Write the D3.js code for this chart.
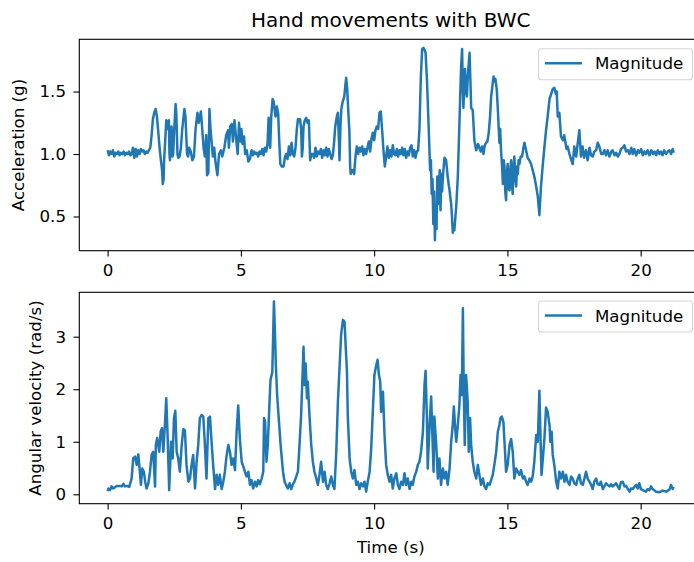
<!DOCTYPE html>
<html><head><meta charset="utf-8">
<script src="https://cdn.jsdelivr.net/npm/d3@7"></script>
<style>body{margin:0;background:#fff}svg{display:block}text{font-family:"DejaVu Sans",sans-serif;fill:#000}</style>
</head><body><svg id="c" width="694" height="562"></svg>
<script>
const chartTitle = "Hand movements with BWC";
const xLabel = "Time (s)";
const accLabel = "Acceleration (g)";
const gyroLabel = "Angular velocity (rad/s)";
const legendLabel = "Magnitude";
const xTicks = [0, 5, 10, 15, 20];
const accTicks = [0.5, 1.0, 1.5];
const gyroTicks = [0, 1, 2, 3];

// [time (s), acceleration magnitude (g)]
const accMagnitude = [
[0,1.03],[0.05,0.99],[0.1,1.02],[0.15,1.0],[0.2,1.03],[0.25,0.98],[0.3,1.01],[0.35,1.0],[0.4,1.02],[0.45,0.99],
[0.5,1.01],[0.55,1.0],[0.6,1.02],[0.65,0.99],[0.7,1.01],[0.75,1.0],[0.8,1.02],[0.85,0.99],[0.9,1.0],[0.95,1.05],
[1.0,0.97],[1.05,1.04],[1.1,0.98],[1.15,1.03],[1.2,1.0],[1.25,1.04],[1.3,1.02],[1.35,1.03],[1.4,1.0],[1.45,1.02],
[1.5,1.01],[1.55,1.03],[1.6,1.05],[1.65,1.15],[1.7,1.28],[1.75,1.33],[1.8,1.36],[1.85,1.3],[1.9,1.18],[1.95,1.05],
[2.0,0.95],[2.04,0.88],[2.07,0.76],[2.1,0.8],[2.12,0.95],[2.16,1.1],[2.2,1.27],[2.23,1.2],[2.26,1.26],[2.3,1.27],
[2.32,1.0],[2.34,0.95],[2.37,1.2],[2.4,1.22],[2.43,0.98],[2.46,1.0],[2.5,1.2],[2.55,1.4],[2.58,1.32],[2.62,1.0],
[2.65,0.97],[2.7,0.98],[2.75,1.05],[2.8,1.2],[2.88,1.36],[2.92,1.3],[2.98,1.0],[3.02,0.98],[3.06,1.05],[3.12,1.02],
[3.18,0.95],[3.24,0.98],[3.3,1.2],[3.37,1.33],[3.42,1.25],[3.5,1.34],[3.55,1.2],[3.6,1.05],[3.65,0.98],[3.7,1.15],
[3.73,0.83],[3.78,0.85],[3.82,1.36],[3.86,1.2],[3.9,1.1],[3.95,0.98],[4.0,1.05],[4.05,0.93],[4.12,0.83],[4.18,1.0],
[4.25,1.03],[4.3,0.98],[4.38,1.05],[4.45,1.15],[4.52,1.19],[4.55,1.05],[4.6,1.22],[4.66,1.24],[4.7,1.1],[4.76,1.27],
[4.82,1.13],[4.88,1.0],[4.93,1.25],[4.98,1.1],[5.02,1.2],[5.06,1.08],[5.12,1.14],[5.16,1.0],[5.22,1.03],[5.28,0.94],
[5.34,0.96],[5.4,1.03],[5.45,0.99],[5.5,1.02],[5.55,1.0],[5.6,1.01],[5.65,0.98],[5.7,1.02],[5.75,1.0],[5.8,1.04],
[5.85,0.99],[5.9,1.05],[5.95,1.02],[6.0,1.08],[6.04,1.29],[6.07,1.1],[6.1,1.05],[6.14,1.3],[6.19,1.44],[6.23,1.42],
[6.27,1.35],[6.3,1.3],[6.35,1.38],[6.4,1.32],[6.44,1.1],[6.48,0.92],[6.53,0.9],[6.6,0.9],[6.65,0.97],[6.7,1.0],
[6.75,0.96],[6.8,1.06],[6.85,0.99],[6.9,1.09],[6.95,1.0],[7.0,0.98],[7.05,1.05],[7.1,1.2],[7.14,1.28],[7.18,1.26],
[7.22,1.28],[7.26,1.2],[7.29,0.98],[7.32,1.05],[7.35,1.22],[7.4,1.27],[7.45,1.29],[7.5,1.25],[7.55,1.27],[7.6,0.95],
[7.65,1.0],[7.7,1.0],[7.75,0.97],[7.8,1.05],[7.85,0.98],[7.9,1.02],[7.95,1.0],[8.0,1.04],[8.05,0.97],[8.1,1.03],
[8.15,0.99],[8.2,1.05],[8.25,0.98],[8.3,1.04],[8.35,1.0],[8.4,0.96],[8.45,0.99],[8.5,1.1],[8.54,1.22],[8.6,1.3],
[8.64,1.33],[8.68,1.1],[8.7,0.95],[8.74,1.25],[8.77,1.36],[8.82,1.42],[8.88,1.46],[8.92,1.55],[8.95,1.61],[8.99,1.52],
[9.04,1.3],[9.07,1.19],[9.1,0.9],[9.12,0.84],[9.16,0.87],[9.2,0.87],[9.25,0.84],[9.3,0.98],[9.35,1.06],[9.4,1.0],
[9.45,1.05],[9.5,1.02],[9.55,1.06],[9.6,0.99],[9.65,1.04],[9.7,1.0],[9.75,1.05],[9.8,1.1],[9.85,1.02],[9.9,1.12],
[9.95,1.17],[10.0,1.11],[10.05,1.19],[10.1,1.22],[10.15,1.2],[10.2,1.33],[10.25,1.34],[10.3,1.19],[10.35,1.03],[10.4,0.9],
[10.45,0.98],[10.5,1.06],[10.55,0.97],[10.6,1.03],[10.65,0.98],[10.7,1.07],[10.75,1.0],[10.8,0.99],[10.85,1.04],[10.9,0.98],
[10.95,1.03],[11.0,1.0],[11.05,1.05],[11.1,0.99],[11.15,1.04],[11.2,0.97],[11.25,1.02],[11.3,0.99],[11.35,1.05],[11.4,1.07],
[11.45,0.98],[11.5,1.03],[11.55,0.97],[11.6,1.02],[11.65,1.03],[11.7,1.2],[11.75,1.6],[11.8,1.84],[11.85,1.85],[11.9,1.83],
[11.93,1.81],[11.98,1.6],[12.05,1.19],[12.1,0.87],[12.13,0.95],[12.16,0.68],[12.19,0.8],[12.22,0.44],[12.25,0.7],[12.28,0.31],
[12.31,0.55],[12.34,0.4],[12.37,0.82],[12.4,0.6],[12.43,0.71],[12.46,0.87],[12.49,0.55],[12.52,0.84],[12.55,0.7],[12.58,0.82],
[12.61,0.9],[12.64,0.97],[12.7,0.95],[12.76,0.82],[12.8,0.75],[12.83,0.71],[12.86,0.65],[12.89,0.6],[12.92,0.5],[12.95,0.37],
[12.98,0.42],[13.01,0.39],[13.05,0.5],[13.08,0.58],[13.14,0.82],[13.2,1.25],[13.26,1.68],[13.3,1.84],[13.33,1.5],[13.35,1.37],
[13.38,1.55],[13.41,1.68],[13.45,1.5],[13.48,1.46],[13.51,1.6],[13.54,1.7],[13.58,1.81],[13.61,1.6],[13.64,1.37],[13.7,1.35],
[13.76,1.11],[13.83,1.03],[13.9,1.08],[13.95,1.05],[14.0,1.02],[14.05,1.06],[14.1,1.0],[14.15,1.07],[14.2,1.09],[14.25,1.1],
[14.3,1.17],[14.35,1.3],[14.39,1.46],[14.44,1.55],[14.48,1.62],[14.52,1.58],[14.55,1.6],[14.6,1.52],[14.64,1.36],[14.7,1.09],
[14.73,1.2],[14.76,1.03],[14.8,0.9],[14.83,0.76],[14.86,0.95],[14.89,0.9],[14.92,0.7],[14.95,0.63],[14.98,0.85],[15.01,0.92],
[15.04,0.72],[15.08,0.71],[15.11,0.88],[15.14,0.95],[15.17,0.75],[15.2,0.68],[15.23,0.9],[15.26,0.98],[15.3,0.8],[15.33,0.74],
[15.36,0.9],[15.39,0.84],[15.42,0.95],[15.45,0.92],[15.5,0.98],[15.55,0.98],[15.6,1.05],[15.64,1.09],[15.7,1.03],[15.76,0.97],
[15.82,0.95],[15.89,0.92],[15.95,0.87],[16.01,0.82],[16.08,0.74],[16.14,0.66],[16.2,0.51],[16.26,0.74],[16.33,0.92],[16.39,1.06],
[16.45,1.19],[16.51,1.3],[16.58,1.44],[16.64,1.48],[16.7,1.52],[16.76,1.53],[16.82,1.48],[16.85,1.5],[16.89,1.3],[16.95,1.33],
[17.01,1.14],[17.08,1.11],[17.13,1.15],[17.18,1.09],[17.22,1.04],[17.26,1.06],[17.33,1.0],[17.4,0.95],[17.45,0.92],[17.51,1.06],
[17.58,0.98],[17.64,1.09],[17.7,1.19],[17.76,0.98],[17.82,1.06],[17.88,0.97],[17.95,1.03],[18.01,0.95],[18.08,1.05],[18.14,0.99],
[18.2,0.98],[18.26,1.02],[18.33,1.03],[18.39,1.09],[18.45,1.06],[18.52,1.0],[18.58,1.0],[18.64,1.03],[18.7,0.99],[18.76,1.03],
[18.83,0.98],[18.9,1.02],[18.95,1.03],[19.02,0.99],[19.08,1.01],[19.14,0.98],[19.2,1.0],[19.26,1.04],[19.33,1.05],[19.39,1.07],
[19.45,1.02],[19.52,1.03],[19.58,1.0],[19.65,1.05],[19.7,1.0],[19.76,1.04],[19.83,0.99],[19.9,1.03],[19.95,1.01],[20.02,1.04],
[20.08,0.99],[20.14,1.02],[20.2,1.0],[20.26,1.03],[20.33,0.99],[20.4,1.03],[20.46,1.0],[20.52,1.02],[20.58,0.99],[20.64,1.03],
[20.7,1.0],[20.76,1.02],[20.82,0.99],[20.88,1.03],[20.95,1.0],[21.02,1.02],[21.08,1.03],[21.14,1.0],[21.2,1.04],[21.24,1.01]
];

// [time (s), angular velocity magnitude (rad/s)]
const gyroMagnitude = [
[0,0.06],[0.03,0.11],[0.09,0.08],[0.15,0.15],[0.21,0.11],[0.34,0.16],[0.46,0.16],[0.53,0.15],[0.59,0.2],[0.65,0.15],
[0.71,0.16],[0.81,0.14],[0.9,0.3],[0.96,0.68],[1.03,0.72],[1.09,0.56],[1.15,0.76],[1.21,0.43],[1.25,0.18],[1.3,0.49],
[1.36,0.43],[1.41,0.24],[1.46,0.11],[1.53,0.21],[1.59,0.43],[1.65,0.75],[1.71,0.81],[1.78,0.15],[1.81,0.94],[1.86,1.07],
[1.94,0.81],[1.99,1.19],[2.04,1.26],[2.09,0.81],[2.15,1.32],[2.2,1.83],[2.25,1.13],[2.31,0.08],[2.38,1.0],[2.44,0.68],
[2.49,1.45],[2.54,1.59],[2.59,0.81],[2.65,0.68],[2.71,0.43],[2.78,0.94],[2.84,1.24],[2.9,1.22],[2.96,0.56],[3.03,0.24],
[3.09,0.3],[3.15,0.56],[3.21,0.75],[3.28,0.11],[3.34,0.62],[3.4,0.94],[3.46,1.45],[3.53,1.51],[3.59,1.48],[3.65,0.94],
[3.71,0.3],[3.78,1.45],[3.84,1.48],[3.9,1.0],[3.96,0.56],[4.03,0.1],[4.09,0.37],[4.15,0.18],[4.21,0.37],[4.28,0.1],
[4.34,0.24],[4.4,0.43],[4.46,0.72],[4.53,0.94],[4.59,0.81],[4.65,0.56],[4.71,0.68],[4.78,0.46],[4.84,1.19],[4.9,1.69],
[4.96,1.07],[5.03,0.62],[5.09,0.53],[5.15,0.43],[5.21,0.34],[5.28,0.43],[5.34,0.18],[5.4,0.27],[5.46,0.11],[5.53,0.24],
[5.59,0.15],[5.65,0.27],[5.71,0.19],[5.78,0.3],[5.84,0.43],[5.87,1.45],[5.91,1.38],[5.96,0.62],[6.01,0.94],[6.06,1.57],
[6.11,2.17],[6.18,2.33],[6.24,3.67],[6.28,3.03],[6.31,2.49],[6.36,1.89],[6.43,1.38],[6.49,0.94],[6.58,0.43],[6.64,0.24],
[6.76,0.11],[6.83,0.21],[6.89,0.1],[6.95,0.19],[7.01,0.24],[7.08,0.34],[7.14,0.43],[7.2,0.94],[7.26,1.51],[7.3,2.08],
[7.35,2.81],[7.39,2.08],[7.43,2.49],[7.48,1.83],[7.51,2.14],[7.58,1.45],[7.64,0.94],[7.7,0.62],[7.76,0.43],[7.83,0.3],
[7.89,0.18],[7.95,0.37],[8.01,0.62],[8.08,0.24],[8.14,0.43],[8.2,0.18],[8.26,0.1],[8.33,0.21],[8.39,0.34],[8.45,0.18],
[8.51,0.1],[8.58,0.81],[8.64,1.76],[8.7,2.4],[8.76,3.03],[8.83,3.32],[8.89,3.28],[8.93,2.84],[8.98,2.33],[9.01,1.51],
[9.08,0.68],[9.14,0.43],[9.2,0.3],[9.26,0.46],[9.33,0.18],[9.39,0.24],[9.45,0.1],[9.51,0.21],[9.58,0.15],[9.64,0.24],
[9.7,0.05],[9.76,0.24],[9.83,0.43],[9.89,0.88],[9.95,1.57],[10.01,2.27],[10.08,2.46],[10.13,2.56],[10.18,2.27],[10.23,2.14],
[10.26,1.57],[10.33,1.95],[10.39,1.13],[10.45,0.56],[10.51,0.37],[10.58,0.24],[10.64,0.37],[10.7,0.11],[10.76,0.3],[10.83,0.4],
[10.89,0.18],[10.95,0.1],[11.01,0.24],[11.08,0.18],[11.14,0.4],[11.2,0.18],[11.26,0.3],[11.33,0.1],[11.39,0.24],[11.45,0.18],
[11.51,0.34],[11.58,0.43],[11.64,0.56],[11.7,0.62],[11.76,0.81],[11.83,1.19],[11.89,2.08],[11.93,2.35],[11.98,1.45],[12.01,0.49],
[12.08,1.32],[12.14,1.86],[12.18,1.19],[12.23,0.43],[12.26,1.48],[12.33,0.94],[12.39,0.3],[12.45,0.68],[12.51,0.18],[12.58,0.49],
[12.64,0.3],[12.7,0.43],[12.76,0.18],[12.83,0.49],[12.89,1.0],[12.95,1.32],[12.99,1.67],[13.04,1.26],[13.08,1.0],[13.14,1.32],
[13.2,1.7],[13.24,2.27],[13.29,1.89],[13.33,3.54],[13.36,2.08],[13.4,0.94],[13.45,2.27],[13.51,1.76],[13.55,0.81],[13.6,1.45],
[13.64,0.94],[13.7,0.62],[13.76,0.43],[13.83,0.3],[13.89,0.56],[13.95,0.37],[14.01,0.18],[14.08,0.3],[14.14,0.15],[14.2,0.1],
[14.26,0.21],[14.33,0.18],[14.39,0.27],[14.45,0.37],[14.51,0.56],[14.58,0.81],[14.64,1.19],[14.7,1.32],[14.74,1.45],[14.79,1.48],
[14.85,1.38],[14.89,1.0],[14.95,0.43],[15.01,0.56],[15.08,0.94],[15.14,1.05],[15.2,0.81],[15.26,0.3],[15.33,0.49],[15.39,0.43],
[15.45,0.37],[15.51,0.46],[15.58,0.3],[15.64,0.34],[15.7,0.24],[15.76,0.18],[15.83,0.3],[15.89,0.24],[15.95,0.34],[16.01,0.62],
[16.08,1.13],[16.14,1.0],[16.2,1.97],[16.24,1.13],[16.28,0.37],[16.33,0.68],[16.39,1.07],[16.45,1.65],[16.51,1.57],[16.58,1.32],
[16.61,1.0],[16.66,1.19],[16.7,0.75],[16.76,0.56],[16.83,0.24],[16.89,0.11],[16.95,0.43],[17.01,0.3],[17.08,0.43],[17.14,0.24],
[17.2,0.37],[17.26,0.24],[17.33,0.18],[17.39,0.34],[17.45,0.3],[17.51,0.21],[17.58,0.18],[17.64,0.3],[17.7,0.37],[17.76,0.21],
[17.83,0.18],[17.89,0.3],[17.95,0.43],[18.01,0.3],[18.08,0.24],[18.14,0.18],[18.2,0.1],[18.26,0.24],[18.33,0.3],[18.39,0.19],
[18.45,0.18],[18.51,0.24],[18.58,0.1],[18.7,0.21],[18.76,0.18],[18.83,0.15],[18.89,0.19],[18.95,0.15],[19.08,0.21],[19.14,0.15],
[19.2,0.1],[19.26,0.23],[19.33,0.24],[19.39,0.15],[19.45,0.16],[19.58,0.05],[19.64,0.11],[19.7,0.1],[19.83,0.18],[19.89,0.11],
[19.95,0.21],[20.01,0.1],[20.08,0.08],[20.2,0.05],[20.26,0.1],[20.33,0.08],[20.39,0.15],[20.45,0.1],[20.58,0.05],[20.7,0.04],
[20.83,0.07],[20.95,0.05],[21.08,0.09],[21.14,0.18],[21.2,0.1],[21.24,0.14]
];

const svg = d3.select("#c");
const lineColor = "#1f77b4";
const axL = 79.3, axR = 702.3;
const x = d3.scaleLinear().domain([-1.0625, 22.3125]).range([axL, axR]);

const panels = [
  {data: accMagnitude, ticks: accTicks, fmt: d3.format(".1f"), label: accLabel,
   top: 39.3, bottom: 250.7, domain: [0.2264, 1.918], labelX: 24, legendTop: 48.7},
  {data: gyroMagnitude, ticks: gyroTicks, fmt: d3.format("d"), label: gyroLabel,
   top: 292.3, bottom: 503.7, domain: [-0.179, 3.845], labelX: 41, legendTop: 301}
];

panels.forEach((p, i) => {
  const y = d3.scaleLinear().domain(p.domain).range([p.bottom, p.top]);
  const g = svg.append("g");
  g.append("clipPath").attr("id", "clip" + i).append("rect")
    .attr("x", axL).attr("y", p.top).attr("width", axR - axL).attr("height", p.bottom - p.top);
  g.append("path").datum(p.data)
    .attr("clip-path", `url(#clip${i})`)
    .attr("fill", "none").attr("stroke", lineColor).attr("stroke-width", 2.5)
    .attr("stroke-linejoin", "round")
    .attr("d", d3.line().x(d => x(d[0])).y(d => y(d[1])));

  const xa = g.append("g").attr("transform", `translate(0,${p.bottom})`)
    .call(d3.axisBottom(x).tickValues(xTicks).tickFormat(d3.format("d")).tickSize(5.8).tickPadding(7.2).tickSizeOuter(0));
  const ya = g.append("g").attr("transform", `translate(${axL},0)`)
    .call(d3.axisLeft(y).tickValues(p.ticks).tickFormat(p.fmt).tickSize(5.8).tickPadding(7.5).tickSizeOuter(0));
  [xa, ya].forEach(a => {
    a.select(".domain").remove();
    a.selectAll(".tick line").attr("stroke", "#000").attr("stroke-width", 1.1);
    a.selectAll(".tick text").attr("font-family", "DejaVu Sans").attr("font-size", 16.67).attr("fill", "#000");
  });

  g.append("rect").attr("x", axL).attr("y", p.top).attr("width", axR - axL).attr("height", p.bottom - p.top)
    .attr("fill", "none").attr("stroke", "#000").attr("stroke-width", 1.1);

  g.append("text").attr("transform", `translate(${p.labelX},${(p.top + p.bottom) / 2}) rotate(-90)`)
    .attr("text-anchor", "middle").attr("font-size", 16.67).text(p.label);

  const lg = g.append("g");
  lg.append("rect").attr("x", 538.5).attr("y", p.legendTop).attr("width", 154).attr("height", 31)
    .attr("rx", 3).attr("fill", "#fff").attr("fill-opacity", 0.8).attr("stroke", "#d5d5d5").attr("stroke-width", 1.1);
  lg.append("line").attr("x1", 545).attr("x2", 582).attr("y1", p.legendTop + 14.5).attr("y2", p.legendTop + 14.5)
    .attr("stroke", lineColor).attr("stroke-width", 2.5);
  lg.append("text").attr("x", 595).attr("y", p.legendTop + 20.5).attr("font-size", 16.67).text(legendLabel);
});

svg.append("text").attr("x", (axL + axR) / 2).attr("y", 27).attr("text-anchor", "middle")
  .attr("font-size", 20).text(chartTitle);
svg.append("text").attr("x", (axL + axR) / 2).attr("y", 553).attr("text-anchor", "middle")
  .attr("font-size", 16.67).text(xLabel);
</script></body></html>
